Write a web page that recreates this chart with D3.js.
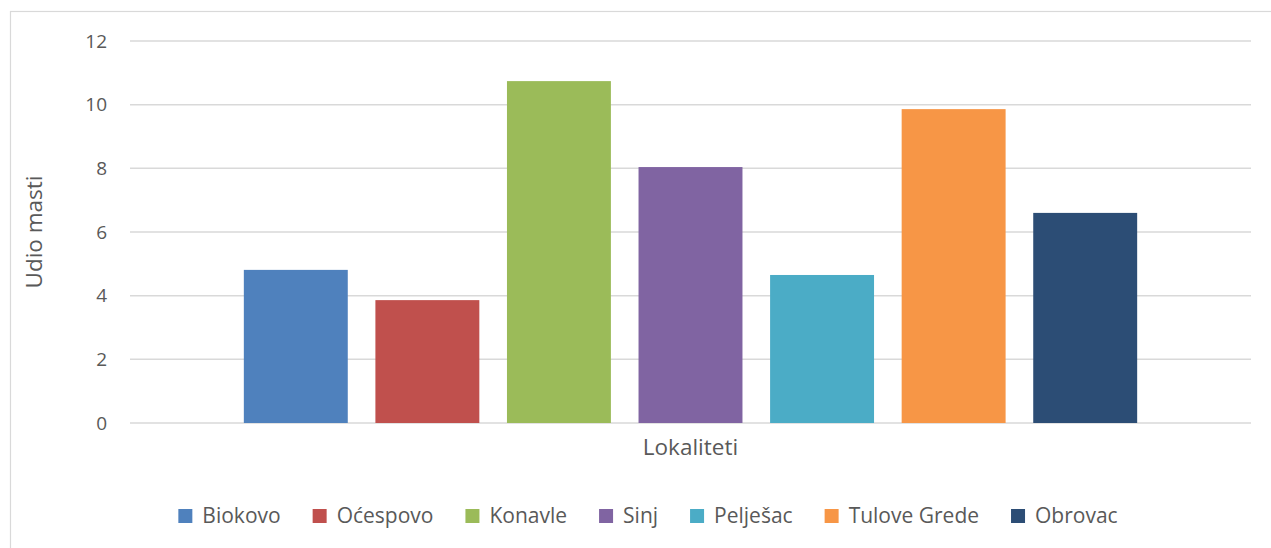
<!DOCTYPE html>
<html><head><meta charset="utf-8">
<script src="https://cdn.jsdelivr.net/npm/d3@7"></script>
<style>
html,body{margin:0;padding:0;background:#fff;}
svg{display:block;font-family:"Open Sans",sans-serif;}
</style></head>
<body>
<svg id="chart" width="1271" height="548"></svg>
<script>
const categories = ["Lokaliteti"];
const series = ["Biokovo","Oćespovo","Konavle","Sinj","Pelješac","Tulove Grede","Obrovac"];
const values = [4.81, 3.86, 10.74, 8.04, 4.65, 9.86, 6.6];
const colors = ["#4f81bd","#c0504d","#9bbb59","#8064a2","#4bacc6","#f79646","#2c4d75"];
const yTicks = [0,2,4,6,8,10,12];
const yTitle = "Udio masti";

const svg = d3.select("#chart");
const W = 1271, H = 548;
const m = {left:130, right:20, top:41, bottom:125};

// chart border
svg.append("rect").attr("x",10.5).attr("y",11.5).attr("width",W+10).attr("height",H+10)
  .attr("fill","#fff").attr("stroke","#d9d9d9").attr("stroke-width",1.2);

const y = d3.scaleLinear().domain([0,12]).range([H-m.bottom, m.top]);
const xCat = d3.scaleBand().domain(categories).range([m.left, W-m.right]).paddingInner(0).paddingOuter(0.1086);
const xSer = d3.scaleBand().domain(series).range([0, xCat.bandwidth()]).paddingInner(0.21).paddingOuter(0.105);

// gridlines
svg.append("g").selectAll("line").data(yTicks).join("line")
  .attr("x1",m.left).attr("x2",W-m.right)
  .attr("y1",d=>y(d)).attr("y2",d=>y(d))
  .attr("stroke","#d9d9d9").attr("stroke-width",1.5);

// y axis labels
const yAxis = d3.axisLeft(y).tickValues(yTicks).tickSize(0).tickPadding(23);
const gy = svg.append("g").attr("transform",`translate(${m.left},0)`).call(yAxis);
gy.select(".domain").remove();
gy.selectAll("text").attr("font-family","Open Sans").attr("font-size",19).attr("fill","#595959");

// bars
const data = series.map((s,i)=>({cat:categories[0], s, v:values[i], c:colors[i]}));
svg.append("g").selectAll("rect").data(data).join("rect")
  .attr("x",d=>xCat(d.cat)+xSer(d.s))
  .attr("width",xSer.bandwidth())
  .attr("y",d=>y(d.v))
  .attr("height",d=>y(0)-y(d.v))
  .attr("fill",d=>d.c);

// x category label
svg.append("g").selectAll("text").data(categories).join("text")
  .attr("x",d=>xCat(d)+xCat.bandwidth()/2)
  .attr("y",y(0)+32)
  .attr("text-anchor","middle").attr("font-size",22.5).attr("fill","#595959")
  .text(d=>d);

// y title
svg.append("text")
  .attr("transform",`translate(42,${(y(0)+y(12))/2}) rotate(-90)`)
  .attr("text-anchor","middle").attr("font-size",22.5).attr("fill","#595959")
  .text(yTitle);

// legend
const lg = svg.append("g");
const items = lg.selectAll("g").data(data).join("g");
items.append("rect").attr("width",14).attr("height",14).attr("y",-7).attr("fill",d=>d.c);
items.append("text").attr("x",24).attr("y",0).attr("dy","0.35em")
  .attr("font-size",21).attr("fill","#595959").text(d=>d.s);
let xpos = 0; const gap = 32;
items.each(function(){
  const g = d3.select(this);
  const tw = g.select("text").node().getComputedTextLength();
  g.attr("transform",`translate(${xpos},0)`);
  xpos += 24 + tw + gap;
});
const totalW = xpos - gap;
const cx = 648;
lg.attr("transform",`translate(${cx - totalW/2},516)`);
</script>
</body></html>
